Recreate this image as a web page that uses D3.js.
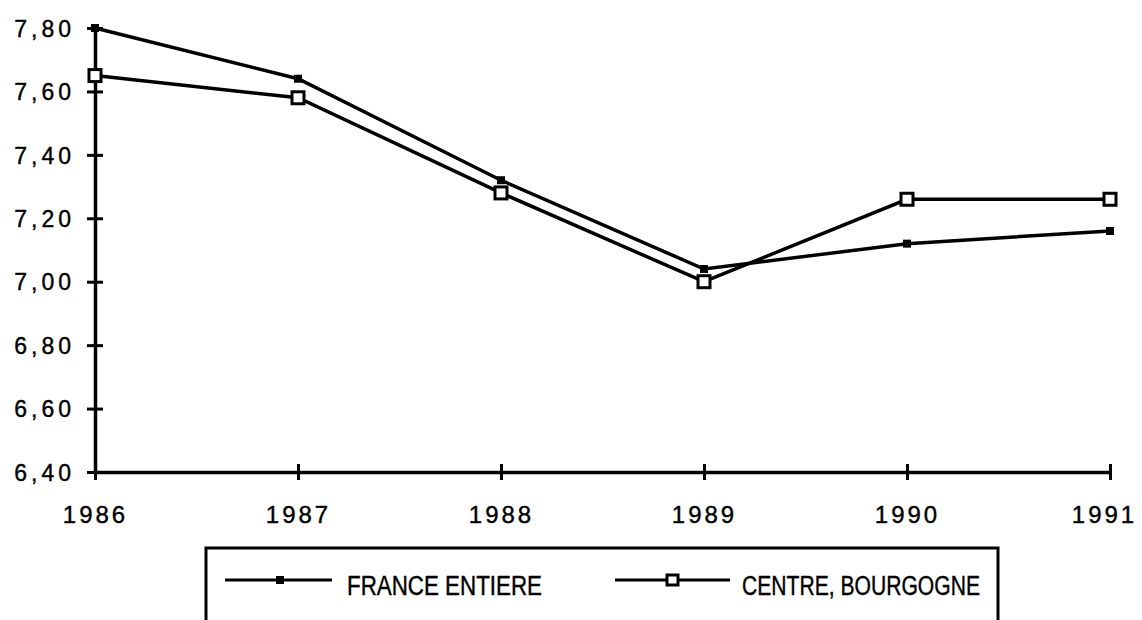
<!DOCTYPE html>
<html><head><meta charset="utf-8">
<script src="https://cdn.jsdelivr.net/npm/d3@7"></script>
<style>body{margin:0;background:#fff}</style>
</head><body>
<svg id="c" width="1142" height="620"></svg>
<script>
const years = [1986, 1987, 1988, 1989, 1990, 1991];
const france = [7.80, 7.64, 7.32, 7.04, 7.12, 7.16];
const centre = [7.65, 7.58, 7.28, 7.00, 7.26, 7.26];
const yTicks = [6.40, 6.60, 6.80, 7.00, 7.20, 7.40, 7.60, 7.80];
const seriesNames = ["FRANCE ENTIERE", "CENTRE, BOURGOGNE"];

const svg = d3.select("#c");
const x = d3.scalePoint().domain(years).range([95, 1110]);
const y = d3.scaleLinear().domain([6.40, 7.80]).range([472, 28]);
const fmt = d => d.toFixed(2).replace(".", ",");
const tickFont = "Liberation Sans, Arial, sans-serif";

// Y axis
const ya = svg.append("g").attr("transform", "translate(95,0)")
  .call(d3.axisLeft(y).tickValues(yTicks).tickFormat(fmt).tickSizeInner(8).tickSizeOuter(0).tickPadding(12));
ya.select(".domain").attr("stroke", "#000").attr("stroke-width", 3.5);
ya.selectAll(".tick line").attr("x1", -8).attr("x2", 8).attr("stroke-width", 3);
ya.selectAll(".tick text").attr("font-family", tickFont).attr("font-size", 23)
  .attr("letter-spacing", 4).attr("fill", "#000").attr("dy", "0.36em")
  .attr("stroke", "#000").attr("stroke-width", 0.4);

// X axis
const xa = svg.append("g").attr("transform", "translate(0,472)")
  .call(d3.axisBottom(x).tickSizeInner(8).tickSizeOuter(0).tickPadding(26));
xa.select(".domain").attr("stroke", "#000").attr("stroke-width", 3.5);
xa.selectAll(".tick line").attr("y1", -8).attr("y2", 8).attr("stroke-width", 3);
xa.selectAll(".tick text").attr("font-family", tickFont).attr("font-size", 24)
  .attr("letter-spacing", 3).attr("fill", "#000")
  .attr("stroke", "#000").attr("stroke-width", 0.4);
xa.selectAll(".tick text").filter(d => d === years[years.length - 1]).attr("dx", "-0.25em");

// lines
const line = d3.line().x((d, i) => x(years[i])).y(d => y(d));
svg.append("path").datum(france).attr("d", line).attr("fill", "none").attr("stroke", "#000").attr("stroke-width", 3.5);
svg.append("path").datum(centre).attr("d", line).attr("fill", "none").attr("stroke", "#000").attr("stroke-width", 3.5);

// markers
svg.selectAll(".mf").data(france).enter().append("rect")
  .attr("x", (d, i) => x(years[i]) - 4).attr("y", d => y(d) - 4)
  .attr("width", 8).attr("height", 8).attr("fill", "#000");
svg.selectAll(".mc").data(centre).enter().append("rect")
  .attr("x", (d, i) => x(years[i]) - 6).attr("y", d => y(d) - 6)
  .attr("width", 12).attr("height", 12).attr("fill", "#fff").attr("stroke", "#000").attr("stroke-width", 3);

// legend
svg.append("rect").attr("x", 206).attr("y", 548).attr("width", 792).attr("height", 100)
  .attr("fill", "none").attr("stroke", "#000").attr("stroke-width", 3);
const lg = svg.append("g");
const ly = 580;
const legFont = "Liberation Sans Narrow, Arial Narrow, sans-serif";
// France entry
lg.append("line").attr("x1", 225).attr("x2", 332).attr("y1", ly).attr("y2", ly).attr("stroke", "#000").attr("stroke-width", 3);
lg.append("rect").attr("x", 276).attr("y", ly - 4).attr("width", 8).attr("height", 8).attr("fill", "#000");
lg.append("text").attr("x", 347).attr("y", 595).text(seriesNames[0])
  .attr("font-family", legFont).attr("font-size", 27)
  .attr("stroke", "#000").attr("stroke-width", 0.4)
  .attr("textLength", 195).attr("lengthAdjust", "spacingAndGlyphs");
// Centre entry
lg.append("line").attr("x1", 615).attr("x2", 730).attr("y1", ly).attr("y2", ly).attr("stroke", "#000").attr("stroke-width", 3);
lg.append("rect").attr("x", 667).attr("y", ly - 5).attr("width", 11).attr("height", 10).attr("fill", "#fff").attr("stroke", "#000").attr("stroke-width", 3);
lg.append("text").attr("x", 742).attr("y", 595).text(seriesNames[1])
  .attr("font-family", legFont).attr("font-size", 27)
  .attr("stroke", "#000").attr("stroke-width", 0.4)
  .attr("textLength", 238).attr("lengthAdjust", "spacingAndGlyphs");
</script>
</body></html>
